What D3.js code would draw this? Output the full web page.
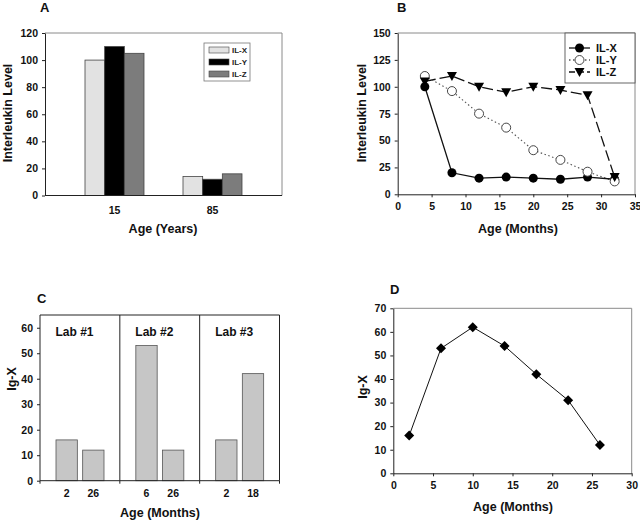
<!DOCTYPE html>
<html>
<head>
<meta charset="utf-8">
<script src="https://cdn.jsdelivr.net/npm/d3@7"></script>
<style>
  body { margin: 0; background: #fff; }
  svg { display: block; font-family: "Liberation Sans", Arial, sans-serif; font-weight: bold; }
  .tick text { font-size: 10.5px; font-weight: bold; fill: #111; }
  .axis path, .axis line { stroke: #222; }
  .title { font-size: 12.5px; fill: #111; }
  .plabel { font-size: 13px; fill: #111; }
</style>
</head>
<body>
<div id="chart"></div>
<script>
// Panel A data
const ageGroupsA = ['15', '85'];
const seriesNames = ['IL-X', 'IL-Y', 'IL-Z'];
const ilXA = [100, 14];
const ilYA = [110, 12];
const ilZA = [105, 16];

// Panel B data
const monthsB = [4, 8, 12, 16, 20, 24, 28, 32];
const ilXB = [100, 20, 15, 16, 15, 14, 16, 14];
const ilYB = [110, 96, 75, 62, 41, 32, 21, 12];
const ilZB = [105, 110, 100, 95, 100, 97, 92, 16];

// Panel C data
const labs = ['Lab #1', 'Lab #2', 'Lab #3'];
const labAges = [['2', '26'], ['6', '26'], ['2', '18']];
const labValues = [[16, 12], [53, 12], [16, 42]];

// Panel D data
const monthsD = [2, 6, 10, 14, 18, 22, 26];
const igXD = [16, 53, 62, 54, 42, 31, 12];

const svg = d3.select('#chart').append('svg')
  .attr('width', 640)
  .attr('height', 521);

const barColors = d3.scaleOrdinal().domain(seriesNames).range(['#e2e2e2', '#000000', '#7c7c7c']);

function frame(g, l, r, t, b, fullBlack) {
  // top and right border (lighter in Excel style)
  g.append('path')
    .attr('d', `M${l},${t}H${r}V${b}`)
    .attr('fill', 'none')
    .attr('stroke', fullBlack ? '#222' : '#8a8a8a')
    .attr('stroke-width', 1);
}

function styleAxis(sel) {
  sel.attr('class', 'axis');
  sel.select('.domain').attr('stroke', '#222');
  sel.selectAll('.tick line').attr('stroke', '#222');
}

// ---------- Panel A ----------
(function () {
  const L = 45, R = 282, T = 33, B = 195.5;
  const g = svg.append('g');
  const y = d3.scaleLinear().domain([0, 120]).range([B, T]);
  const x0 = d3.scaleBand().domain(ageGroupsA).range([65.5, 261.5]);
  const x1 = d3.scaleBand().domain(seriesNames).range([0, 59]);
  const vals = { 'IL-X': ilXA, 'IL-Y': ilYA, 'IL-Z': ilZA };

  frame(g, L, R, T, B);

  const bars = [];
  ageGroupsA.forEach((a, i) => seriesNames.forEach(s => bars.push({ a, s, v: vals[s][i] })));
  g.selectAll('rect.bar').data(bars).enter().append('rect')
    .attr('class', 'bar')
    .attr('x', d => x0(d.a) + x0.bandwidth() / 2 - 29.5 + x1(d.s))
    .attr('width', x1.bandwidth())
    .attr('y', d => y(d.v))
    .attr('height', d => B - y(d.v))
    .attr('fill', d => barColors(d.s))
    .attr('stroke', '#444')
    .attr('stroke-width', 0.8);

  g.append('g').attr('transform', `translate(${L},0)`)
    .call(d3.axisLeft(y).tickValues(d3.range(0, 121, 20)).tickSize(3).tickSizeOuter(0).tickPadding(4))
    .call(styleAxis);

  const xa = d3.scaleBand().domain(ageGroupsA).range([65.5, 261.5]);
  g.append('g').attr('transform', `translate(0,${B})`)
    .call(d3.axisBottom(xa).tickSize(0).tickPadding(11))
    .call(styleAxis)
    .call(s => s.select('.domain').attr('d', `M${L},0H${R}`));

  // legend
  const lg = g.append('g');
  lg.append('rect').attr('x', 204).attr('y', 43).attr('width', 46).attr('height', 38)
    .attr('fill', '#fff').attr('stroke', '#777').attr('stroke-width', 0.8);
  seriesNames.forEach((s, i) => {
    lg.append('rect').attr('x', 209).attr('y', 47 + i * 12).attr('width', 20).attr('height', 6)
      .attr('fill', barColors(s)).attr('stroke', '#444').attr('stroke-width', 0.6);
    lg.append('text').attr('x', 232).attr('y', 53 + i * 12).attr('font-size', 8).attr('fill', '#222').text(s);
  });

  g.append('text').attr('class', 'plabel').attr('x', 40).attr('y', 12).text('A');
  g.append('text').attr('class', 'title').attr('text-anchor', 'middle')
    .attr('transform', `translate(12,113) rotate(-90)`).text('Interleukin Level');
  g.append('text').attr('class', 'title').attr('text-anchor', 'middle')
    .attr('x', 163).attr('y', 233).text('Age (Years)');
})();

// ---------- Panel B ----------
(function () {
  const L = 397.7, R = 635, T = 33, B = 194.3;
  const g = svg.append('g');
  const x = d3.scaleLinear().domain([0, 35]).range([L, R]);
  const y = d3.scaleLinear().domain([0, 150]).range([B, T]);

  frame(g, L, R, T, B);

  g.append('g').attr('transform', `translate(${L},0)`)
    .call(d3.axisLeft(y).tickValues(d3.range(0, 151, 25)).tickSize(3).tickSizeOuter(0).tickPadding(4))
    .call(styleAxis);
  g.append('g').attr('transform', `translate(0,${B})`)
    .call(d3.axisBottom(x).tickValues(d3.range(0, 36, 5)).tickSize(3).tickSizeOuter(0).tickPadding(5))
    .call(styleAxis);

  const series = [
    { name: 'IL-X', vals: ilXB, dash: null, marker: 'filled' },
    { name: 'IL-Y', vals: ilYB, dash: '1.5,2.5', marker: 'open' },
    { name: 'IL-Z', vals: ilZB, dash: '11,4', marker: 'tri' }
  ];
  const line = d3.line().x(d => x(d[0])).y(d => y(d[1]));

  function drawMarker(sel, type, cx, cy) {
    if (type === 'filled') {
      sel.append('circle').attr('cx', cx).attr('cy', cy).attr('r', 4.5).attr('fill', '#000');
    } else if (type === 'open') {
      sel.append('circle').attr('cx', cx).attr('cy', cy).attr('r', 4.5)
        .attr('fill', '#fff').attr('stroke', '#333').attr('stroke-width', 0.9);
    } else {
      sel.append('path').attr('transform', `translate(${cx},${cy})`)
        .attr('d', 'M-5,-4L5,-4L0,5Z').attr('fill', '#000');
    }
  }

  // draw order so IL-X points sit on top near the end like the reference
  [series[2], series[1], series[0]].forEach(s => {
    const pts = monthsB.map((m, i) => [m, s.vals[i]]);
    g.append('path').datum(pts).attr('d', line)
      .attr('fill', 'none').attr('stroke', s.marker === 'open' ? '#555' : '#111')
      .attr('stroke-width', s.marker === 'open' ? 1.1 : 1.3)
      .attr('stroke-dasharray', s.dash);
  });
  [series[0], series[1], series[2]].forEach(s => {
    const mg = g.append('g');
    monthsB.forEach((m, i) => drawMarker(mg, s.marker, x(m), y(s.vals[i])));
  });

  // legend
  const lg = g.append('g');
  lg.append('rect').attr('x', 565).attr('y', 33).attr('width', 70).attr('height', 50)
    .attr('fill', '#fff').attr('stroke', '#555').attr('stroke-width', 0.9);
  series.forEach((s, i) => {
    const yy = 48 + i * 12;
    lg.append('line').attr('x1', 569).attr('x2', 590).attr('y1', yy).attr('y2', yy)
      .attr('stroke', s.marker === 'open' ? '#555' : '#111').attr('stroke-width', 1.3)
      .attr('stroke-dasharray', s.dash ? (s.marker === 'tri' ? '6,3' : '1.5,2.5') : null);
    drawMarker(lg, s.marker, 579.5, yy);
    lg.append('text').attr('x', 596).attr('y', yy + 4).attr('font-size', 11).attr('fill', '#111').text(s.name);
  });

  g.append('text').attr('class', 'plabel').attr('x', 397).attr('y', 12).text('B');
  g.append('text').attr('class', 'title').attr('text-anchor', 'middle')
    .attr('transform', `translate(366,113) rotate(-90)`).text('Interleukin Level');
  g.append('text').attr('class', 'title').attr('text-anchor', 'middle')
    .attr('x', 518).attr('y', 233).text('Age (Months)');
})();

// ---------- Panel C ----------
(function () {
  const L = 40, R = 279.5, T = 315, B = 480.7;
  const g = svg.append('g');
  const y = d3.scaleLinear().domain([0, 65]).range([B, T]);
  const xLab = d3.scaleBand().domain(labs).range([L, R]);

  labs.forEach((lab, li) => {
    const x0 = xLab(lab);
    const xb = d3.scaleBand().domain(labAges[li]).range([x0 + 16, x0 + 64]).paddingInner(0.2);
    const data = labAges[li].map((a, i) => ({ a, v: labValues[li][i] }));
    g.selectAll(null).data(data).enter().append('rect')
      .attr('x', d => xb(d.a))
      .attr('width', xb.bandwidth())
      .attr('y', d => y(d.v))
      .attr('height', d => B - y(d.v))
      .attr('fill', '#c6c6c6')
      .attr('stroke', '#555')
      .attr('stroke-width', 0.8);
    g.selectAll(null).data(data).enter().append('text')
      .attr('x', d => xb(d.a) + xb.bandwidth() / 2)
      .attr('y', B + 16.5)
      .attr('text-anchor', 'middle')
      .attr('font-size', 10.5).attr('fill', '#111')
      .text(d => d.a);
    g.append('text').attr('x', x0 + 15.5).attr('y', 336)
      .attr('font-size', 12).attr('fill', '#111').text(lab);
    if (li > 0) {
      g.append('line').attr('x1', x0).attr('x2', x0).attr('y1', T).attr('y2', B)
        .attr('stroke', '#222').attr('stroke-width', 1);
    }
    g.append('line').attr('x1', x0).attr('x2', x0).attr('y1', B).attr('y2', B + 3).attr('stroke', '#222');
  });
  g.append('line').attr('x1', R).attr('x2', R).attr('y1', B).attr('y2', B + 3).attr('stroke', '#222');

  frame(g, L, R, T, B, true);

  g.append('g').attr('transform', `translate(${L},0)`)
    .call(d3.axisLeft(y).tickValues(d3.range(0, 61, 10)).tickSize(3).tickSizeOuter(0).tickPadding(4))
    .call(styleAxis)
    .call(s => s.select('.domain').attr('d', `M0,${T}V${B}`));
  g.append('line').attr('x1', L).attr('x2', R).attr('y1', B).attr('y2', B).attr('stroke', '#222');

  g.append('text').attr('class', 'plabel').attr('x', 37).attr('y', 303).text('C');
  g.append('text').attr('class', 'title').attr('text-anchor', 'middle')
    .attr('transform', `translate(16,379) rotate(-90)`).text('Ig-X');
  g.append('text').attr('class', 'title').attr('text-anchor', 'middle')
    .attr('x', 160).attr('y', 517).text('Age (Months)');
})();

// ---------- Panel D ----------
(function () {
  const L = 393.3, R = 631.7, T = 308.3, B = 473.3;
  const g = svg.append('g');
  const x = d3.scaleLinear().domain([0, 30]).range([L, R]);
  const y = d3.scaleLinear().domain([0, 70]).range([B, T]);

  frame(g, L, R, T, B);

  g.append('g').attr('transform', `translate(${L},0)`)
    .call(d3.axisLeft(y).tickValues(d3.range(0, 71, 10)).tickSize(3).tickSizeOuter(0).tickPadding(4))
    .call(styleAxis);
  g.append('g').attr('transform', `translate(0,${B})`)
    .call(d3.axisBottom(x).tickValues(d3.range(0, 31, 5)).tickSize(3).tickSizeOuter(0).tickPadding(5))
    .call(styleAxis);

  const pts = monthsD.map((m, i) => [m, igXD[i]]);
  g.append('path').datum(pts)
    .attr('d', d3.line().x(d => x(d[0])).y(d => y(d[1])))
    .attr('fill', 'none').attr('stroke', '#111').attr('stroke-width', 1);
  g.selectAll(null).data(pts).enter().append('path')
    .attr('transform', d => `translate(${x(d[0])},${y(d[1])})`)
    .attr('d', 'M0,-5L5,0L0,5L-5,0Z')
    .attr('fill', '#000');

  g.append('text').attr('class', 'plabel').attr('x', 390).attr('y', 294).text('D');
  g.append('text').attr('class', 'title').attr('text-anchor', 'middle')
    .attr('transform', `translate(367,387) rotate(-90)`).text('Ig-X');
  g.append('text').attr('class', 'title').attr('text-anchor', 'middle')
    .attr('x', 513).attr('y', 511).text('Age (Months)');
})();
</script>
</body>
</html>
